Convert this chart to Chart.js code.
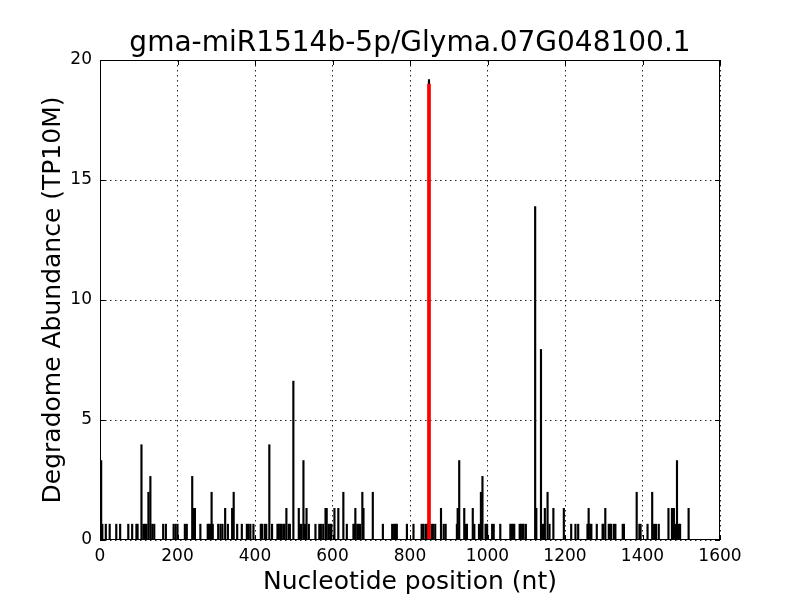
<!DOCTYPE html>
<html lang="en">
<head>
<meta charset="UTF-8">
<title>gma-miR1514b-5p/Glyma.07G048100.1</title>
<script src="https://cdn.jsdelivr.net/npm/chart.js"></script>
<style>
  html, body { margin: 0; padding: 0; background: #fff; }
  #wrap { width: 800px; height: 600px; }
</style>
</head>
<body>
<div id="wrap"><canvas id="plot" width="800" height="600"></canvas></div>
<script>
// degradome reads along the transcript (nt position, TP10M)
const positions = [
  3, 6, 15, 25, 42, 52, 73, 83, 94, 97, 107, 112, 116, 120, 125, 130, 135, 140,
  163, 170, 190, 195, 200, 219, 224, 238, 242, 245, 259, 278, 281, 285, 288, 291,
  305, 311, 316, 323, 330, 341, 345, 354, 366, 379, 383, 388, 396,
  415, 418, 425, 429, 437, 444, 458, 461, 465, 468, 473, 476, 481, 487, 490, 499,
  513, 516, 520, 525, 529, 533, 539, 556, 566, 570, 576, 582, 585, 590, 594, 597,
  605, 615, 628, 637, 654, 657, 659, 664, 667, 671, 677, 680, 704, 730, 754, 759,
  763, 766, 792, 809, 830, 834, 840, 844, 849, 856, 859, 865, 880, 887, 892,
  921, 923, 927, 940, 943, 947, 962, 966, 978, 983, 987, 995, 999, 1012, 1016,
  1033, 1059, 1062, 1066, 1069, 1083, 1086, 1090, 1093, 1099, 1123, 1126, 1138,
  1141, 1145, 1148, 1155, 1160, 1170, 1197, 1216, 1227, 1234, 1258, 1261, 1265,
  1268, 1282, 1297, 1299, 1304, 1313, 1316, 1319, 1326, 1330, 1349, 1352, 1385,
  1392, 1395, 1413, 1425, 1430, 1435, 1442, 1467, 1476, 1481, 1485, 1489, 1494,
  1497, 1519
];
const abundance = [
  3.31, 0.66, 0.66, 0.66, 0.66, 0.66, 0.66, 0.66, 0.66, 0.66, 3.97, 0.66, 0.66, 0.66, 1.99, 2.65, 0.66, 0.66,
  0.66, 0.66, 0.66, 0.66, 0.66, 0.66, 0.66, 2.65, 1.32, 1.32, 0.66, 0.66, 0.66, 0.66, 1.99, 0.66,
  0.66, 0.66, 0.66, 1.32, 0.66, 1.32, 1.99, 0.66, 0.66, 0.66, 0.66, 0.66, 0.66,
  0.66, 0.66, 0.66, 0.66, 3.97, 0.66, 0.66, 0.66, 0.66, 0.66, 0.66, 0.66, 1.32, 0.66, 0.66, 6.62,
  1.32, 0.66, 0.66, 3.31, 0.66, 1.32, 0.66, 0.66, 0.66, 0.66, 0.66, 1.32, 1.32, 0.66, 0.66, 0.66,
  1.32, 1.32, 1.99, 0.66, 0.66, 0.66, 1.32, 0.66, 0.66, 0.66, 1.99, 1.32, 1.99, 0.66, 0.66, 0.66,
  0.66, 0.66, 0.66, 0.66, 0.66, 0.66, 0.66, 0.66, 19.18, 0.66, 0.66, 0.66, 1.32, 0.66, 0.66,
  0.66, 1.32, 3.31, 1.32, 0.66, 0.66, 1.32, 0.66, 0.66, 1.99, 2.65, 0.66, 0.66, 0.66, 0.66,
  0.66, 0.66, 0.66, 0.66, 0.66, 0.66, 0.66, 0.66, 0.66, 0.66, 13.89, 1.32, 7.94,
  0.66, 0.66, 1.32, 1.99, 0.66, 1.32, 1.32, 0.66, 0.66, 0.66, 0.66, 1.32, 0.66,
  0.66, 0.66, 0.66, 0.66, 1.32, 0.66, 0.66, 0.66, 0.66, 0.66, 0.66, 0.66, 1.99,
  0.66, 0.66, 0.66, 1.99, 0.66, 0.66, 0.66, 1.32, 1.32, 1.32, 0.66, 3.31, 0.66,
  0.66, 1.32
];
// predicted miRNA cleavage site
const sitePositions = [849];
const siteAbundance = [19.0];

const xTicks = [0, 200, 400, 600, 800, 1000, 1200, 1400, 1600];
const yTicks = [0, 5, 10, 15, 20];

const titleText = 'gma-miR1514b-5p/Glyma.07G048100.1';
const xTitle = 'Nucleotide position (nt)';
const yTitle = 'Degradome Abundance (TP10M)';

const FONT = 'DejaVu Sans';

// box around the axes + inward tick marks, like the classic matplotlib look
const framePlugin = {
  id: 'frame',
  afterDraw(chart) {
    const { ctx, chartArea: a, scales } = chart;
    ctx.save();
    ctx.strokeStyle = '#000';
    ctx.lineWidth = 1;
    ctx.strokeRect(a.left + 0.5, a.top + 0.5, a.right - a.left - 1, a.bottom - a.top - 1);
    ctx.beginPath();
    xTicks.forEach(v => {
      const px = Math.round(scales.x.getPixelForValue(v)) + 0.5;
      ctx.moveTo(px, a.bottom); ctx.lineTo(px, a.bottom - 5);
      ctx.moveTo(px, a.top); ctx.lineTo(px, a.top + 5);
    });
    yTicks.forEach(v => {
      const py = Math.round(scales.y.getPixelForValue(v)) + 0.5;
      ctx.moveTo(a.left, py); ctx.lineTo(a.left + 5, py);
      ctx.moveTo(a.right, py); ctx.lineTo(a.right - 5, py);
    });
    ctx.stroke();
    ctx.restore();
  }
};

new Chart(document.getElementById('plot'), {
  type: 'bar',
  data: {
    datasets: [
      {
        label: 'cleavage site',
        data: sitePositions.map((p, i) => ({ x: p, y: siteAbundance[i] })),
        backgroundColor: '#ff0000',
        barThickness: 3,
        order: 0
      },
      {
        label: 'degradome',
        data: positions.map((p, i) => ({ x: p, y: abundance[i] })),
        backgroundColor: '#000000',
        barThickness: 1.5,
        order: 1
      }
    ]
  },
  options: {
    responsive: false,
    animation: false,
    grouped: false,
    layout: { padding: { top: 0, right: 80, left: 0, bottom: 0 } },
    plugins: {
      legend: { display: false },
      tooltip: { enabled: false },
      title: {
        display: true,
        fullSize: false,
        text: titleText,
        color: '#000',
        font: { family: FONT, size: 28, weight: 'normal', lineHeight: 1.0 },
        padding: { top: 30, bottom: 2 }
      }
    },
    scales: {
      x: {
        type: 'linear',
        min: 0,
        max: 1600,
        offset: false,
        afterBuildTicks: s => { s.ticks = xTicks.map(v => ({ value: v })); },
        afterFit: s => { s.height = 60; },
        grid: { offset: false, color: 'rgba(0,0,0,0.85)', lineWidth: 1, drawTicks: false },
        border: { display: false, dash: [1.5, 3.5] },
        ticks: {
          color: '#000',
          padding: 6,
          maxRotation: 0,
          font: { family: FONT, size: 17 },
          callback: v => String(v)
        },
        title: {
          display: true,
          text: xTitle,
          color: '#000',
          font: { family: FONT, size: 25, lineHeight: 1.2 },
          padding: { top: 0, bottom: 3 }
        }
      },
      y: {
        min: 0,
        max: 20,
        afterBuildTicks: s => { s.ticks = yTicks.map(v => ({ value: v })); },
        afterFit: s => { s.width = 100; },
        grid: { color: 'rgba(0,0,0,0.85)', lineWidth: 1, drawTicks: false },
        border: { display: false, dash: [1.5, 3.5] },
        ticks: {
          color: '#000',
          padding: 8,
          font: { family: FONT, size: 17 },
          callback: v => String(v)
        },
        title: {
          display: true,
          text: yTitle,
          color: '#000',
          font: { family: FONT, size: 25, lineHeight: 1.2 },
          padding: { top: 38, bottom: 0 }
        }
      }
    }
  },
  plugins: [framePlugin]
});
</script>
</body>
</html>
